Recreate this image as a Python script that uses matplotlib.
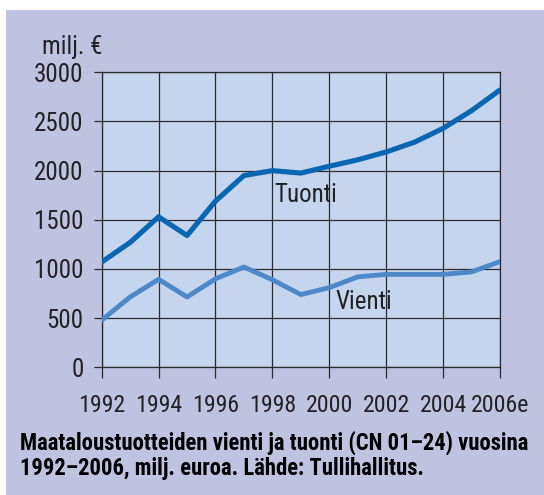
import matplotlib
matplotlib.use("Agg")
import matplotlib.pyplot as plt
from matplotlib.patches import Rectangle

years = [1992, 1993, 1994, 1995, 1996, 1997, 1998, 1999,
         2000, 2001, 2002, 2003, 2004, 2005, 2006]
tuonti = [1070, 1270, 1530, 1340, 1690, 1950, 2000, 1975,
          2045, 2110, 2190, 2290, 2430, 2610, 2820]
vienti = [480, 715, 895, 715, 900, 1020, 890, 740,
          810, 920, 945, 945, 945, 970, 1075]
tick_years = [1992, 1994, 1996, 1998, 2000, 2002, 2004, 2006]
tick_labels = ['1992', '1994', '1996', '1998', '2000', '2002', '2004', '2006e']
y_ticks = [0, 500, 1000, 1500, 2000, 2500, 3000]
title_lines = ['Maataloustuotteiden vienti ja tuonti (CN 01–24) vuosina',
               '1992–2006, milj. euroa. Lähde: Tullihallitus.']

plt.rcParams['font.family'] = ['Roboto Condensed', 'DejaVu Sans']

panel_col = '#bfc3e0'
plot_col = '#c6d5ee'
grid_col = '#2b2b2b'
text_col = '#222222'

fig = plt.figure(figsize=(5.44, 4.95), dpi=100)
fig.patch.set_facecolor('white')
fig.patches.append(Rectangle((6 / 544, 0), 538 / 544, 485 / 495,
                             transform=fig.transFigure, facecolor=panel_col,
                             edgecolor='none', zorder=-10))

ax = fig.add_axes([101.7 / 544, 1 - 367.3 / 495, (500 - 101.7) / 544, (367.3 - 72.3) / 495])
ax.set_facecolor(plot_col)

ax.plot(years, tuonti, color='#0a66b0', lw=3.7, solid_capstyle='round', zorder=3)
ax.plot(years, vienti, color='#4d88c8', lw=3.5, solid_capstyle='round', zorder=3)

ax.set_xlim(1992, 2006)
ax.set_ylim(0, 3000)
ax.set_xticks(tick_years)
ax.set_xticklabels(tick_labels)
ax.set_yticks(y_ticks)
ax.grid(True, color=grid_col, lw=0.9)
ax.set_axisbelow(True)
for s in ax.spines.values():
    s.set_color(grid_col)
    s.set_linewidth(0.9)
ax.tick_params(axis='both', colors=grid_col, labelcolor=text_col, width=0.9)
ax.tick_params(axis='y', length=6, pad=7, labelsize=18)
ax.tick_params(axis='x', length=8, pad=11, labelsize=17.2)

ax.text(1998.08, 1750, 'Tuonti', fontsize=18, color=text_col, va='center', ha='left')
ax.text(2000.22, 660, 'Vienti', fontsize=18, color=text_col, va='center', ha='left')

fig.text(42 / 544, 1 - 47 / 495, 'milj. €', fontsize=18, color=text_col,
         va='center', ha='left')

for i, line in enumerate(title_lines):
    fig.text(20 / 544, 1 - (450 + 25 * i) / 495, line,
             fontsize=16.3, fontweight='bold', color='black',
             va='baseline', ha='left')

fig.savefig('out.png', dpi=100, facecolor=fig.get_facecolor())
